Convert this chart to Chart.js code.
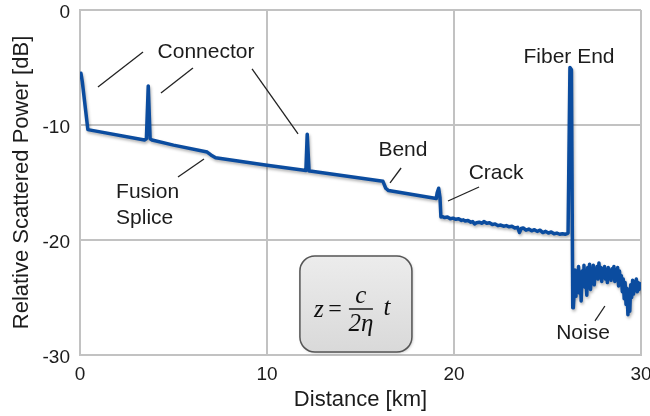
<!DOCTYPE html>
<html>
<head>
<meta charset="utf-8">
<script src="https://cdn.jsdelivr.net/npm/chart.js@4.4.1/dist/chart.umd.min.js"></script>
<style>
  html, body { margin: 0; padding: 0; background: #fff; }
  #wrap { width: 650px; height: 416px; }
</style>
</head>
<body>
<div id="wrap"><canvas id="otdr" width="650" height="416"></canvas></div>
<script>
// OTDR trace: distance along the fiber [km] and relative scattered power [dB]
var distance = [
    // launch, connectors, fusion splice, bend, crack
    0.05, 0.12, 0.42, 3.45, 3.55, 3.65, 3.75, 3.85, 5.0, 6.8, 7.0, 7.25,
    10.0, 12.08, 12.15, 12.25, 12.3, 16.2, 16.35, 16.5, 19.05, 19.1, 19.18, 19.25,
    // after the crack
    19.3, 19.35, 19.5, 19.65, 19.8, 19.95, 20.1, 20.25, 20.4, 20.5,
    20.6, 20.75, 20.9, 21.0, 21.1, 21.2, 21.35, 21.5, 21.6, 21.75,
    21.9, 22.05, 22.2, 22.35, 22.5, 22.65, 22.8, 22.95, 23.1, 23.25,
    23.4, 23.5, 23.6, 23.7, 23.85, 24.0, 24.15, 24.3, 24.45, 24.6,
    24.75, 24.9, 25.05, 25.2, 25.35, 25.5, 25.65, 25.8, 25.95, 26.05,
    // fiber end reflection
    26.1, 26.2, 26.28, 26.35,
    // noise floor
    26.38, 26.42, 26.47, 26.52, 26.57, 26.62, 26.66, 26.7, 26.75, 26.8, 26.85, 26.9,
    26.95, 27.0, 27.05, 27.1, 27.15, 27.2, 27.25, 27.3, 27.35, 27.4, 27.45, 27.5,
    27.55, 27.6, 27.65, 27.7, 27.75, 27.8, 27.85, 27.9, 27.95, 28.0, 28.05, 28.1,
    28.15, 28.2, 28.25, 28.3, 28.35, 28.4, 28.45, 28.5, 28.55, 28.6, 28.65, 28.7,
    28.75, 28.8, 28.85, 28.9, 28.95, 29.0, 29.05, 29.1, 29.15, 29.2, 29.25, 29.3,
    29.35, 29.4, 29.45, 29.5, 29.55, 29.6, 29.65, 29.7, 29.75, 29.8, 29.85, 29.9,
    29.95, 30.0
];

var power = [
    -5.5, -6.2, -10.4, -11.3, -11.2, -6.6, -11.2, -11.3, -11.75, -12.35, -12.6, -12.85,
    -13.5, -13.95, -10.8, -14.0, -14.0, -14.9, -15.5, -15.7, -16.4, -15.9, -15.5, -16.3,

    -18.0, -17.95, -18.05, -18.0, -18.15, -18.1, -18.2, -18.15, -18.3, -18.25,
    -18.35, -18.3, -18.45, -18.4, -18.6, -18.5, -18.45, -18.55, -18.4, -18.55,
    -18.5, -18.65, -18.6, -18.75, -18.7, -18.8, -18.75, -18.85, -18.8, -18.95,
    -18.9, -19.35, -19.0, -18.95, -19.15, -19.05, -19.2, -19.1, -19.25, -19.15,
    -19.35, -19.25, -19.4, -19.3, -19.45, -19.4, -19.5, -19.45, -19.5, -19.45,

    -19.4, -5.0, -5.2, -25.9,

    -25.9, -24.8, -22.6, -24.9, -22.9, -23.6, -22.3, -24.6, -23.0, -25.3, -22.7, -23.9,
    -22.2, -24.1, -22.9, -24.8, -22.4, -23.5, -22.1, -24.3, -22.8, -23.6, -22.2, -23.9,
    -22.6, -23.2, -22.3, -23.4, -22.0, -23.1, -22.4, -23.6, -22.5, -23.0, -22.3, -23.4,
    -22.6, -23.7, -22.4, -23.1, -22.7, -23.5, -22.5, -22.9, -22.3, -23.6, -22.6, -23.3,
    -22.4, -24.0, -22.7, -23.9, -23.1, -24.5, -23.4, -25.1, -23.7, -25.6, -24.2, -26.5,
    -24.4, -26.2, -23.9, -25.0, -23.5, -24.7, -23.6, -24.4, -23.4, -24.5, -23.7, -24.3,
    -23.8, -24.1
];

var xTicks = [0, 10, 20, 30];
var yTicks = [0, -10, -20, -30];

var FONT = "'Liberation Sans', Arial, sans-serif";
var SERIF = "'Liberation Serif', 'DejaVu Serif', serif";
var TEXT = '#1c1c1c';
var GRID = '#c2c2c2';
var TRACE = '#0b4c9f';

// Soft drop shadow under the trace
var shadowPlugin = {
    id: 'traceShadow',
    beforeDatasetsDraw: function (chart) {
        var ctx = chart.ctx;
        ctx.save();
        ctx.shadowColor = 'rgba(0, 0, 0, 0.3)';
        ctx.shadowBlur = 3;
        ctx.shadowOffsetX = 1;
        ctx.shadowOffsetY = 2;
    },
    afterDatasetsDraw: function (chart) {
        chart.ctx.restore();
    }
};

// Event labels, leader lines and the distance formula, placed in data units
var annotationPlugin = {
    id: 'events',
    afterDraw: function (chart) {
        var ctx = chart.ctx;
        var xs = chart.scales.x, ys = chart.scales.y;
        function px(v) { return xs.getPixelForValue(v); }
        function py(v) { return ys.getPixelForValue(v); }

        function label(text, x, y, align) {
            ctx.font = '21px ' + FONT;
            ctx.fillStyle = TEXT;
            ctx.textAlign = align || 'center';
            ctx.textBaseline = 'middle';
            ctx.fillText(text, px(x), py(y));
        }
        function leader(x1, y1, x2, y2) {
            ctx.beginPath();
            ctx.moveTo(px(x1), py(y1));
            ctx.lineTo(px(x2), py(y2));
            ctx.strokeStyle = '#222';
            ctx.lineWidth = 1.3;
            ctx.stroke();
        }

        ctx.save();
        label('Connector', 6.74, -3.65);
        leader(3.37, -3.65, 0.96, -6.7);
        leader(6.04, -5.04, 4.33, -7.22);
        leader(9.2, -5.13, 11.66, -10.78);

        label('Fusion', 1.93, -15.83, 'left');
        label('Splice', 1.93, -18.09, 'left');
        leader(6.63, -12.96, 5.24, -14.52);

        label('Bend', 17.27, -12.17);
        leader(17.17, -13.74, 16.58, -15.04);

        label('Crack', 22.25, -14.17);
        leader(21.34, -15.39, 19.68, -16.61);

        label('Fiber End', 26.15, -4.09);

        label('Noise', 26.9, -28.09);
        leader(28.07, -25.74, 27.54, -27.04);

        // Rounded box with z = c / (2η) t
        var bx = px(11.76), by = py(-21.39);
        var bw = px(17.75) - bx, bh = py(-29.74) - by;
        ctx.shadowColor = 'rgba(0, 0, 0, 0.25)';
        ctx.shadowBlur = 3;
        ctx.shadowOffsetX = 1;
        ctx.shadowOffsetY = 1;
        var grad = ctx.createLinearGradient(0, by, 0, by + bh);
        grad.addColorStop(0, '#ececec');
        grad.addColorStop(1, '#d9d9d9');
        ctx.beginPath();
        ctx.roundRect(bx, by, bw, bh, 15);
        ctx.fillStyle = grad;
        ctx.fill();
        ctx.shadowColor = 'transparent';
        ctx.strokeStyle = '#555';
        ctx.lineWidth = 1.5;
        ctx.stroke();

        var cx = bx + bw / 2, cy = by + bh / 2 + 5;
        ctx.fillStyle = '#111';
        ctx.textBaseline = 'middle';
        ctx.textAlign = 'center';
        ctx.font = 'italic 25px ' + SERIF;
        ctx.fillText('z', cx - 37, cy + 1);
        ctx.font = '24px ' + SERIF;
        ctx.fillText('=', cx - 21, cy + 1);
        ctx.font = 'italic 25px ' + SERIF;
        ctx.fillText('c', cx + 5, cy - 13);
        ctx.fillText('2\u03B7', cx + 5, cy + 15);
        ctx.fillText('t', cx + 31, cy - 1);
        ctx.beginPath();
        ctx.moveTo(cx - 7, cy);
        ctx.lineTo(cx + 17, cy);
        ctx.strokeStyle = '#111';
        ctx.lineWidth = 1.4;
        ctx.stroke();
        ctx.restore();
    }
};

// Function to build the trace chart
function initializeChart() {
    var points = distance.map(function (d, i) {
        return { x: d, y: power[i] };
    });

    new Chart(document.getElementById('otdr'), {
        type: 'line',
        data: {
            datasets: [{
                data: points,
                borderColor: TRACE,
                borderWidth: 3.5,
                pointRadius: 0,
                tension: 0,
                borderJoinStyle: 'round',
                borderCapStyle: 'round'
            }]
        },
        options: {
            responsive: false,
            animation: false,
            layout: { padding: { top: 10, right: 9, left: 0, bottom: 0 } },
            plugins: {
                legend: { display: false },
                tooltip: { enabled: false }
            },
            scales: {
                x: {
                    type: 'linear',
                    min: 0,
                    max: 30,
                    afterBuildTicks: function (scale) {
                        scale.ticks = xTicks.map(function (v) { return { value: v }; });
                    },
                    afterFit: function (scale) {
                        scale.height = 61;
                        scale.paddingLeft = 0;
                        scale.paddingRight = 0;
                    },
                    grid: { color: GRID, lineWidth: 2, drawTicks: false },
                    border: { display: true, color: GRID, width: 2 },
                    ticks: {
                        padding: 8,
                        color: TEXT,
                        font: { family: FONT, size: 19 },
                        maxRotation: 0
                    },
                    title: {
                        display: true,
                        text: 'Distance [km]',
                        color: TEXT,
                        font: { family: FONT, size: 22 },
                        padding: { top: 0, bottom: 3 }
                    }
                },
                y: {
                    min: -30,
                    max: 0,
                    afterBuildTicks: function (scale) {
                        scale.ticks = yTicks.map(function (v) { return { value: v }; });
                    },
                    afterFit: function (scale) {
                        scale.width = 80;
                        scale.paddingTop = 0;
                        scale.paddingBottom = 0;
                    },
                    grid: { color: GRID, lineWidth: 2, drawTicks: false },
                    border: { display: true, color: GRID, width: 2 },
                    ticks: {
                        padding: 10,
                        labelOffset: 3,
                        color: TEXT,
                        font: { family: FONT, size: 19 }
                    },
                    title: {
                        display: true,
                        text: 'Relative Scattered Power [dB]',
                        color: TEXT,
                        font: { family: FONT, size: 22 },
                        padding: { top: 9, bottom: 0 }
                    }
                }
            }
        },
        plugins: [shadowPlugin, annotationPlugin]
    });
}

initializeChart();
</script>
</body>
</html>
